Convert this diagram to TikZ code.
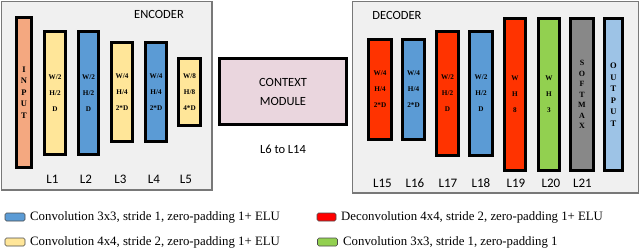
\documentclass[tikz,border=0pt]{standalone}
\usepackage{fontspec}
\setmainfont{Liberation Serif}
\newfontfamily\calibri{Carlito}
\definecolor{inputc}{RGB}{244,168,128}
\definecolor{yel}{RGB}{255,230,153}
\definecolor{blu}{RGB}{91,155,213}
\definecolor{decred}{RGB}{255,51,0}
\definecolor{legred}{RGB}{255,0,0}
\definecolor{grn}{RGB}{146,208,80}
\definecolor{smgray}{RGB}{136,136,136}
\definecolor{outblu}{RGB}{157,195,230}
\definecolor{ctxpink}{RGB}{234,214,222}
\definecolor{panelbg}{RGB}{240,240,240}
\definecolor{panelframe}{RGB}{120,120,120}
\tikzset{
  panel/.style={draw=panelframe, fill=panelbg, line width=1.3pt},
  layer/.style={draw=black, line width=2.6pt, inner sep=0pt, align=center,
    font=\bfseries\fontsize{7.2}{16}\selectfont},
  vlayer/.style={layer, font=\bfseries\fontsize{8.5}{11.5}\selectfont},
  lbl/.style={font=\calibri\fontsize{13}{14}\selectfont, inner sep=0pt},
  title/.style={font=\calibri\fontsize{12.5}{14}\selectfont, inner sep=0pt},
  swatch/.style={draw=black!70, line width=0.6pt, rounded corners=1.5pt, inner sep=0pt,
    minimum height=8pt},
  legtext/.style={font=\fontsize{12.8}{14}\selectfont, anchor=west, inner sep=0pt}
}
\begin{document}
\begin{tikzpicture}[x=1pt,y=-1pt]
\useasboundingbox (0,0) rectangle (640,249);
% panels
\draw[panel] (1.5,1.5) rectangle (212,190);
\draw[panel] (352.5,1.5) rectangle (638.5,193);
\node[title] (enc) at (159,14) {ENCODER};
\node[title] (dec) at (397,15) {DECODER};
% encoder layers
\node[vlayer, fill=inputc, minimum width=15.4pt, minimum height=150.4pt] (input) at (24,92.5) {I\\N\\P\\U\\T};
\node[layer, fill=yel, minimum width=21.4pt, minimum height=123.4pt] (l1) at (55,93) {W/2\\H/2\\D};
\node[layer, fill=blu, minimum width=20.4pt, minimum height=123.4pt] (l2) at (88.5,93) {W/2\\H/2\\D};
\node[layer, fill=yel, minimum width=21.4pt, minimum height=99.4pt] (l3) at (122,92) {W/4\\H/4\\2*D};
\node[layer, fill=blu, minimum width=21.4pt, minimum height=99.4pt] (l4) at (156,92) {W/4\\H/4\\2*D};
\node[layer, fill=yel, minimum width=22.4pt, minimum height=67.4pt] (l5) at (189.5,92) {W/8\\H/8\\4*D};
\node[lbl] (t1) at (52.5,179) {L1};
\node[lbl] (t2) at (86,179) {L2};
\node[lbl] (t3) at (120.5,179) {L3};
\node[lbl] (t4) at (154,179) {L4};
\node[lbl] (t5) at (186,179) {L5};
% context module
\node[draw=black, line width=2.6pt, fill=ctxpink, minimum width=127.4pt, minimum height=66.4pt,
  align=center, font=\calibri\fontsize{12.5}{19}\selectfont, inner sep=0pt] (ctx) at (283,91.5) {CONTEXT\\MODULE};
\node[lbl, font=\calibri\fontsize{12.5}{14}\selectfont] (tctx) at (283,149) {L6 to L14};
% decoder layers
\node[layer, fill=decred, minimum width=23.4pt, minimum height=100.4pt] (l15) at (380,89.5) {W/4\\H/4\\2*D};
\node[layer, fill=blu, minimum width=22.4pt, minimum height=100.4pt] (l16) at (413.5,89.5) {W/4\\H/4\\2*D};
\node[layer, fill=decred, minimum width=22.4pt, minimum height=124.4pt] (l17) at (447.5,93.5) {W/2\\H/2\\D};
\node[layer, fill=blu, minimum width=23.4pt, minimum height=124.4pt] (l18) at (481,93.5) {W/2\\H/2\\D};
\node[layer, fill=decred, minimum width=21.4pt, minimum height=152.4pt] (l19) at (515,94.5) {W\\H\\8};
\node[layer, fill=grn, minimum width=21.4pt, minimum height=152.4pt] (l20) at (549,94.5) {W\\H\\3};
\node[vlayer, fill=smgray, minimum width=23.4pt, minimum height=152.4pt,
  font=\bfseries\fontsize{8}{10.5}\selectfont] (l21) at (582,94.5) {S\\O\\F\\T\\M\\A\\X};
\node[vlayer, fill=outblu, minimum width=18.4pt, minimum height=152.4pt] (output) at (613.5,94.5) {O\\U\\T\\P\\U\\T};
\node[lbl] (t15) at (382.5,183) {L15};
\node[lbl] (t16) at (415,183) {L16};
\node[lbl] (t17) at (448,183) {L17};
\node[lbl] (t18) at (481,183) {L18};
\node[lbl] (t19) at (516,183) {L19};
\node[lbl] (t20) at (551,183) {L20};
\node[lbl] (t21) at (582.5,183) {L21};
% legend
\node[swatch, fill=blu, minimum width=20pt] (sw1) at (15,217) {};
\node[legtext] (lg1) at (30,217) {Convolution 3x3, stride 1, zero-padding 1+ ELU};
\node[swatch, fill=yel, minimum width=20pt] (sw2) at (15,242) {};
\node[legtext] (lg2) at (30,242) {Convolution 4x4, stride 2, zero-padding 1+ ELU};
\node[swatch, fill=legred, minimum width=19pt] (sw3) at (326.5,217) {};
\node[legtext] (lg3) at (341,217) {Deconvolution 4x4, stride 2, zero-padding 1+ ELU};
\node[swatch, fill=grn, minimum width=20pt] (sw4) at (327.5,242) {};
\node[legtext] (lg4) at (343,242) {Convolution 3x3, stride 1, zero-padding 1};
\end{tikzpicture}
\end{document}
